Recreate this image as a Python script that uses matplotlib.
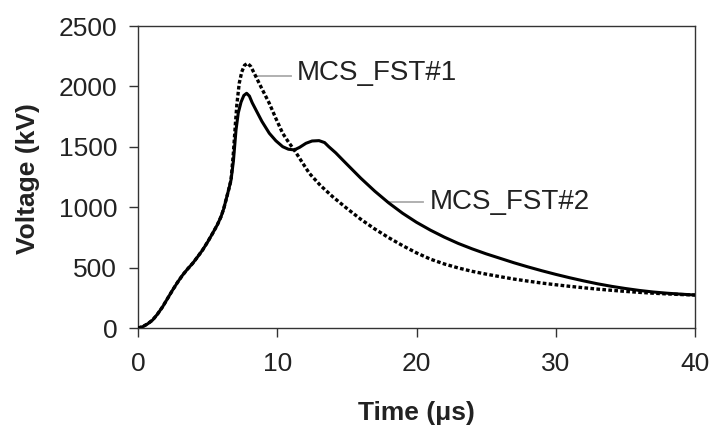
import matplotlib
matplotlib.use("Agg")
import matplotlib.pyplot as plt

plt.rcParams['font.family'] = ['Liberation Sans', 'DejaVu Sans']

# Shared front of both waveforms (time in us, voltage in kV)
t_rise = [0, 0.34, 0.7, 1.05, 1.4, 1.77, 2.1, 2.49, 2.85, 3.21, 3.55, 3.93,
          4.3, 4.64, 5.0, 5.36, 5.7, 5.96, 6.15, 6.32, 6.5, 6.68]
v_rise = [0, 11, 35, 66, 115, 176, 240, 315, 380, 439, 487, 536,
          592, 646, 712, 784, 855, 921, 985, 1060, 1140, 1225]

# MCS_FST#1 (dotted) after the shared front
t_fst1 = [6.85, 7.0, 7.1, 7.27, 7.45, 7.65, 7.87, 8.1, 8.35, 8.47, 8.9, 9.43,
          9.9, 10.39, 10.8, 11.22, 11.8, 12.3, 13.1, 13.98, 15, 16, 17, 18,
          19, 20, 21, 22, 23, 24, 25, 26, 27, 28, 29, 30, 31, 32, 33, 34, 35,
          36, 37, 38, 39, 40]
v_fst1 = [1450, 1700, 1850, 2026, 2120, 2175, 2191, 2165, 2108, 2080, 1980, 1860,
          1735, 1612, 1540, 1474, 1370, 1281, 1180, 1087, 990, 900, 820, 748,
          682, 622, 570, 530, 497, 469, 446, 425, 405, 388, 372, 358, 345, 333,
          322, 312, 303, 295, 288, 282, 277, 273]

# MCS_FST#2 (solid) after the shared front
t_fst2 = [6.85, 7.04, 7.2, 7.4, 7.6, 7.8, 8.0, 8.2, 8.47, 8.9, 9.43, 9.9,
          10.39, 10.8, 11.22, 11.6, 12.06, 12.5, 13.0, 13.4, 13.7, 14.2, 14.7,
          15, 16, 17, 18, 19, 20, 21, 22, 23, 24, 25, 26, 27, 28, 29, 30, 31,
          32, 33, 34, 35, 36, 37, 38, 39, 40]
v_fst2 = [1380, 1640, 1780, 1870, 1925, 1943, 1920, 1865, 1805, 1710, 1612, 1550,
          1501, 1480, 1474, 1495, 1529, 1548, 1551, 1535, 1501, 1450, 1391,
          1356, 1240, 1133, 1036, 950, 875, 810, 752, 700, 655, 614, 577, 540,
          506, 474, 444, 416, 390, 366, 345, 327, 311, 298, 288, 280, 273]

x_ticks = [0, 10, 20, 30, 40]
y_ticks = [0, 500, 1000, 1500, 2000, 2500]

fig = plt.figure(figsize=(7.13, 4.32), dpi=100)
ax = fig.add_axes([138 / 713, 1 - 328 / 432, (695 - 138) / 713, (328 - 26) / 432])

ax.plot(t_rise + t_fst2, v_rise + v_fst2, color='black', lw=2.2,
        solid_capstyle='round', zorder=3)
ax.plot(t_rise + t_fst1, v_rise + v_fst1, color='black', lw=2.4,
        dashes=(1.1, 0.7), zorder=3)

ax.set_xlim(0, 40)
ax.set_ylim(0, 2500)
ax.set_xticks(x_ticks)
ax.set_yticks(y_ticks)
ax.tick_params(direction='out', length=6.5, width=1.0, labelsize=19,
               color='#333333', labelcolor='#222222')
ax.tick_params(axis='y', pad=8.5)
ax.tick_params(axis='x', pad=11)
for s in ax.spines.values():
    s.set_linewidth(1.0)
    s.set_color('#333333')

# Leader lines and series names
ax.plot([8.5, 11.0], [2090, 2090], color='#aaaaaa', lw=1.3, zorder=2)
ax.text(11.4, 2110, 'MCS_FST#1', fontsize=20, va='center', ha='left', color='#222222')
ax.plot([17.9, 20.5], [1045, 1045], color='#aaaaaa', lw=1.3, zorder=2)
ax.text(20.95, 1045, 'MCS_FST#2', fontsize=20, va='center', ha='left', color='#222222')

fig.text(28 / 713, 1 - 179 / 432, 'Voltage (kV)', rotation=90, ha='center',
         va='center', fontsize=19, fontweight='bold', color='#222222')
fig.text(416.5 / 713, 1 - 413 / 432, 'Time (\u03bcs)', ha='center', va='center',
         fontsize=19, fontweight='bold', color='#222222')

fig.savefig('out.png', dpi=100)
